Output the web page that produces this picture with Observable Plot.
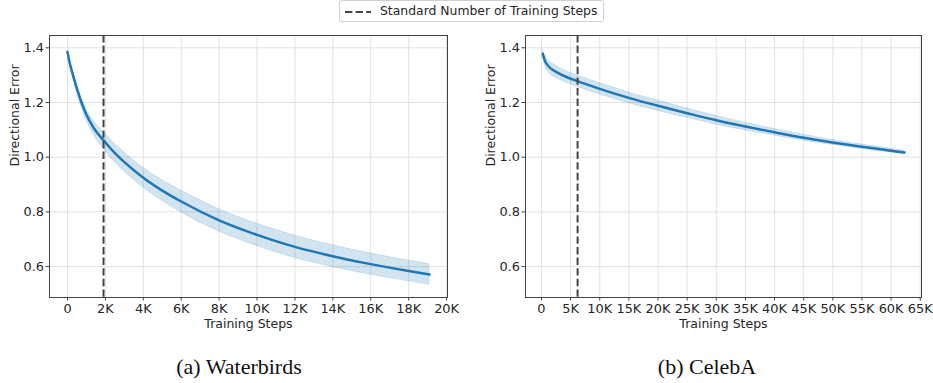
<!DOCTYPE html>
<html>
<head>
<meta charset="utf-8">
<script src="https://cdn.jsdelivr.net/npm/d3@7"></script>
<script src="https://cdn.jsdelivr.net/npm/@observablehq/plot@0.6"></script>
<style>
  html, body { margin: 0; padding: 0; background: #fff; }
  #root { position: relative; width: 933px; height: 383px; overflow: hidden; font-family: "DejaVu Sans", sans-serif; }
  .panel { position: absolute; top: 0; }
  #legend { position: absolute; left: 339px; top: 0px; width: 265px; height: 22px; border: 1px solid #d0d0d0; border-radius: 3px; background: #fff; box-sizing: border-box; }
  #legend svg { position: absolute; left: 3px; top: 5px; }
  #legend span { position: absolute; left: 40px; top: 2px; font-size: 12.4px; color: #262626; white-space: nowrap; }
  .cap { position: absolute; top: 354px; font-family: "Liberation Serif", "Times New Roman", serif; font-size: 22px; color: #111; transform: translateX(-50%); white-space: nowrap; }
</style>
</head>
<body>
<div id="root">
  <div id="left" class="panel" style="left:0px"></div>
  <div id="right" class="panel" style="left:466px"></div>
  <div id="legend"><svg width="30" height="12"><line x1="2" y1="6" x2="28" y2="6" stroke="#444" stroke-width="2" stroke-dasharray="7.4,3.2"/></svg><span id="legendText"></span></div>
  <div class="cap" id="capA" style="left:239px"></div>
  <div class="cap" id="capB" style="left:707px"></div>
</div>
<script>
// ---- Data ----
const legendLabel = "Standard Number of Training Steps";
const xLabel = "Training Steps";
const yLabel = "Directional Error";
const captions = ["(a) Waterbirds", "(b) CelebA"];

const yTicks = [0.6, 0.8, 1.0, 1.2, 1.4];

// (a) Waterbirds
const leftSteps = [0, 100, 250, 500, 750, 1000, 1400, 1900, 2500, 3000, 4000, 5000, 6000, 8000, 10000, 12000, 14000, 16000, 18000, 19100];
const leftMean  = [1.385, 1.35, 1.31, 1.25, 1.198, 1.155, 1.105, 1.062, 1.015, 0.982, 0.925, 0.878, 0.838, 0.769, 0.716, 0.672, 0.638, 0.609, 0.584, 0.571];
const leftStd   = [0.004, 0.007, 0.01, 0.014, 0.018, 0.021, 0.026, 0.031, 0.034, 0.035, 0.036, 0.038, 0.04, 0.041, 0.041, 0.041, 0.04, 0.039, 0.038, 0.038];
const leftXTicks = [0, 2000, 4000, 6000, 8000, 10000, 12000, 14000, 16000, 18000, 20000];
const leftStandard = 1900;

// (b) CelebA
const rightSteps = [230, 600, 1370, 2500, 4000, 6200, 10000, 15000, 20000, 25000, 30000, 35000, 40000, 45000, 50000, 55000, 60000, 62300];
const rightMean  = [1.378, 1.352, 1.329, 1.312, 1.296, 1.278, 1.25, 1.217, 1.188, 1.161, 1.135, 1.112, 1.091, 1.071, 1.054, 1.038, 1.024, 1.017];
const rightStd   = [0.013, 0.018, 0.022, 0.022, 0.021, 0.021, 0.021, 0.02, 0.019, 0.017, 0.016, 0.014, 0.012, 0.011, 0.009, 0.008, 0.007, 0.007];
const rightXTicks = [0, 5000, 10000, 15000, 20000, 25000, 30000, 35000, 40000, 45000, 50000, 55000, 60000, 65000];
const rightStandard = 6200;

const blue = "#1f77b4";
const kFormat = d => d === 0 ? "0" : (d / 1000) + "K";

function panel({steps, mean, std, xDomain, xTicks, vline, width, marginLeft, marginRight}) {
  const data = steps.map((s, i) => ({s, m: mean[i], lo: mean[i] - std[i], hi: mean[i] + std[i]}));
  return Plot.plot({
    width, height: 340,
    marginLeft, marginRight, marginTop: 35, marginBottom: 43,
    x: {domain: xDomain},
    y: {domain: [0.487, 1.445]},
    style: {fontFamily: "DejaVu Sans", fontSize: "12.9px", color: "#262626", background: "white", overflow: "visible"},
    marks: [
      Plot.gridX(xTicks, {stroke: "#e2e2e2", strokeOpacity: 1, strokeWidth: 1}),
      Plot.gridY(yTicks, {stroke: "#e2e2e2", strokeOpacity: 1, strokeWidth: 1}),
      Plot.areaY(data, {x: "s", y1: "lo", y2: "hi", fill: blue, fillOpacity: 0.2, stroke: blue, strokeOpacity: 0.15, strokeWidth: 1, curve: "monotone-x"}),
      Plot.line(data, {x: "s", y: "m", stroke: blue, strokeWidth: 2.5, curve: "monotone-x"}),
      Plot.ruleX([vline], {stroke: "#444", strokeWidth: 2, strokeDasharray: "7.4,3.2"}),
      Plot.frame({stroke: "#444", strokeWidth: 1}),
      Plot.axisX(xTicks, {tickSize: 3.5, tickPadding: 2.5, tickFormat: kFormat, label: null, stroke: "#444"}),
      Plot.axisY(yTicks, {tickSize: 3.5, tickPadding: 2, tickFormat: d3.format(".1f"), label: null, stroke: "#444"}),
      Plot.text([xLabel], {frameAnchor: "bottom", dy: 26, lineAnchor: "middle", fontSize: 12.5, fill: "#262626"}),
      Plot.text([yLabel], {frameAnchor: "left", dx: -35, rotate: -90, lineAnchor: "middle", fontSize: 12.5, fill: "#262626"})
    ]
  });
}

document.getElementById("left").append(panel({
  steps: leftSteps, mean: leftMean, std: leftStd,
  xDomain: [-950, 20050], xTicks: leftXTicks, vline: leftStandard,
  width: 466, marginLeft: 49, marginRight: 19
}));
document.getElementById("right").append(panel({
  steps: rightSteps, mean: rightMean, std: rightStd,
  xDomain: [-2740, 65220], xTicks: rightXTicks, vline: rightStandard,
  width: 467, marginLeft: 59, marginRight: 12
}));
document.getElementById("legendText").textContent = legendLabel;
document.getElementById("capA").textContent = captions[0];
document.getElementById("capB").textContent = captions[1];
</script>
</body>
</html>
